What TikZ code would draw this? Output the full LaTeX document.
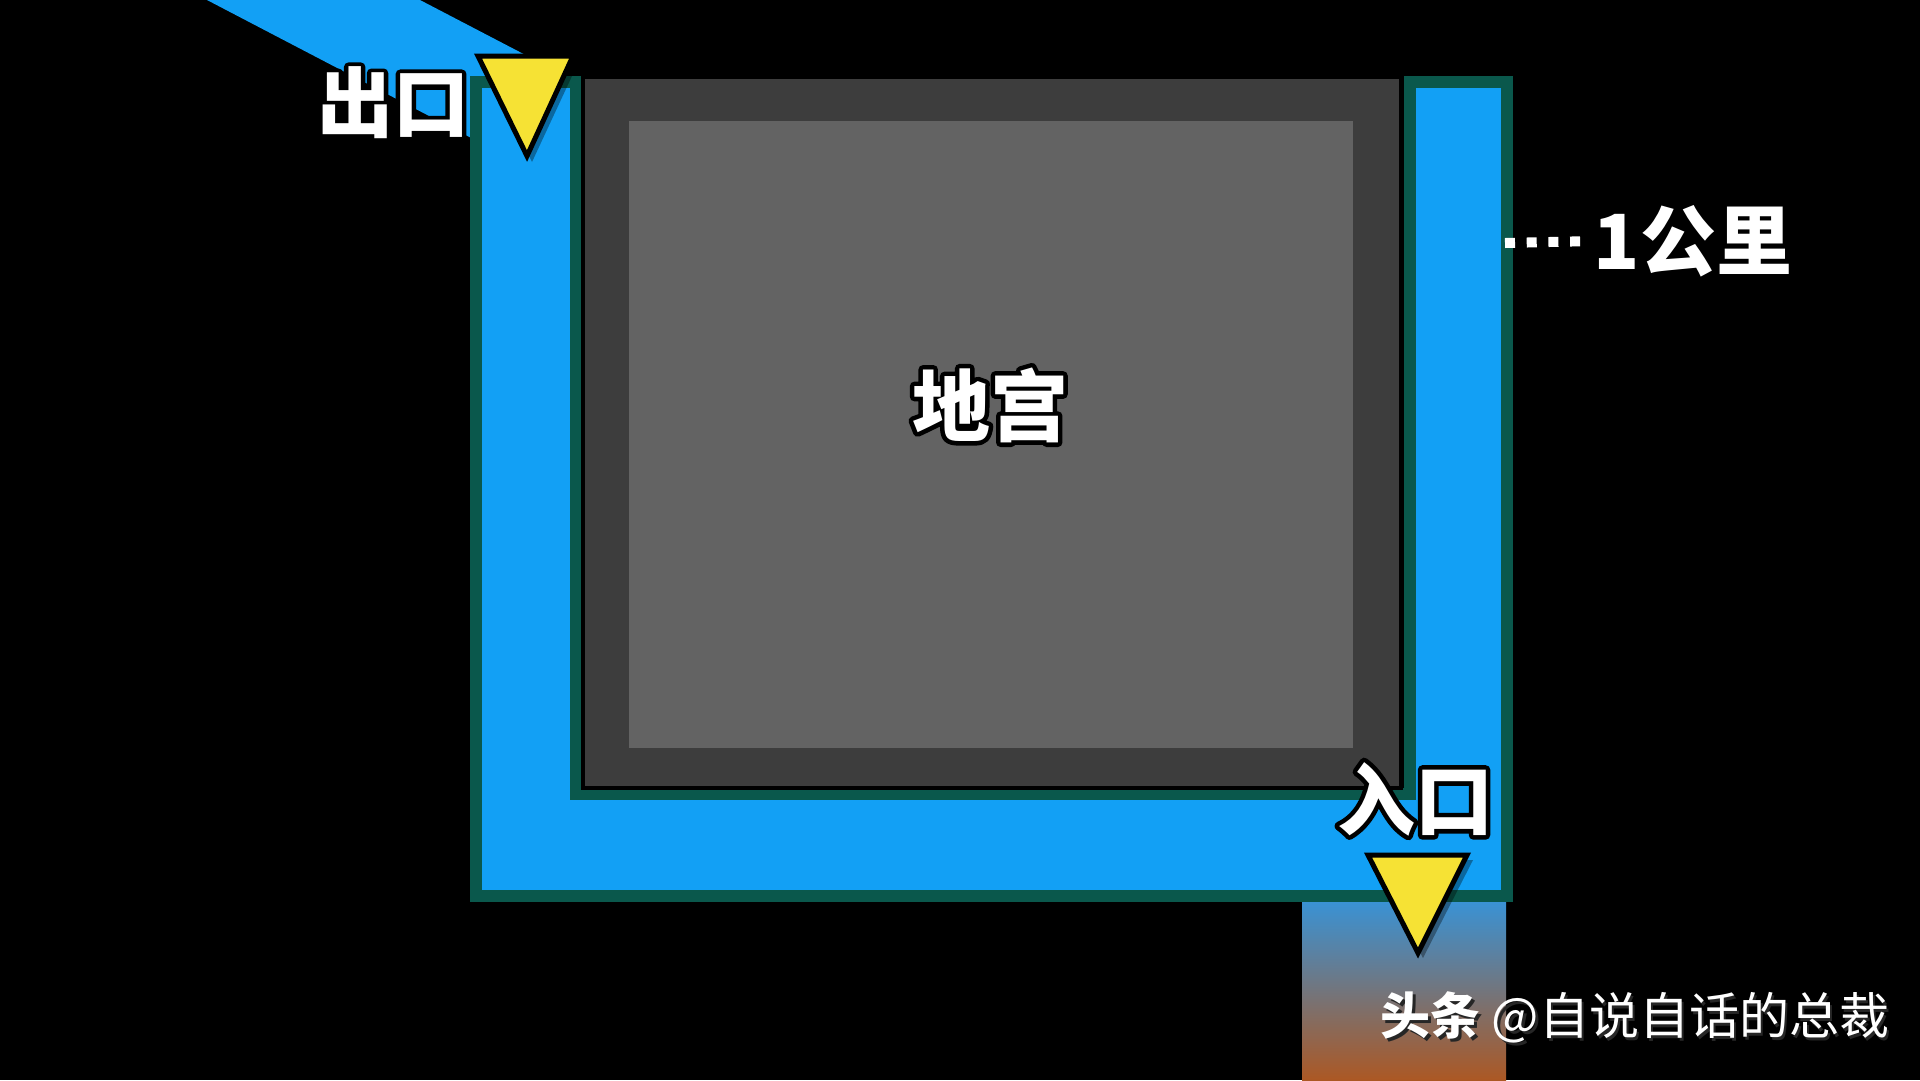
\documentclass[tikz,border=0pt]{standalone}
\usepackage{fontspec}
\newfontfamily\cjk{Noto Sans CJK SC}
\definecolor{cblue}{RGB}{18,160,245}
\definecolor{cgreen}{RGB}{10,88,76}
\definecolor{cdark}{RGB}{61,61,61}
\definecolor{clight}{RGB}{99,99,99}
\definecolor{cyellow}{RGB}{246,226,52}
\definecolor{gradtop}{RGB}{58,146,212}
\definecolor{gradbot}{RGB}{172,88,36}
\tikzset{
  bigtext/.style={inner sep=0pt, text=white, font=\cjk\bfseries\fontsize{76pt}{80pt}\selectfont},
  marker/.style={fill=cyellow, draw=black, line width=5pt, line join=miter},
  markshadow/.style={fill=black, opacity=0.35},
}
% black stroked underlay + white text on top
\newcommand{\outl}[1]{\makebox[0pt][l]{\color{black}\special{pdf:literal direct 1 j 0 G 9 w 2 Tr}#1\special{pdf:literal direct 0 Tr}}#1}
% soft drop shadow
\newcommand{\shadowed}[1]{\makebox[0pt][l]{\kern2.5pt\raisebox{-2.5pt}{\color{black!85}#1}}#1}
\begin{document}
\begin{tikzpicture}[x=1pt,y=-1pt]
\useasboundingbox (0,0) rectangle (1920,1080);
\fill[black] (0,0) rectangle (1920,1080);
% gradient passage below entrance
\shade[top color=gradtop, bottom color=gradbot] (1302,902) rectangle (1506,1080);
% diagonal blue band at top left
\fill[cblue] (207,0) -- (420,0) -- (560,73) -- (500,153) -- cycle;
% U-shaped blue corridor
\filldraw[fill=cblue, draw=cgreen, line width=12pt, line join=miter]
  (476,82) -- (476,896) -- (1507,896) -- (1507,82) -- (1410,82)
  -- (1410,794) -- (576,794) -- (576,82) -- cycle;
% underground palace
\filldraw[fill=cdark, draw=black, line width=4pt] (583,77) rectangle (1401,788);
\fill[clight] (629,121) rectangle (1353,748);
% exit marker
\fill[markshadow] (482,61) -- (579,61) -- (532,162) -- cycle;
\filldraw[marker] (478,56) -- (573,56) -- (527,156) -- cycle;
% entrance marker
\fill[markshadow] (1372,860) -- (1473,860) -- (1423,958) -- cycle;
\filldraw[marker] (1368,855) -- (1467,855) -- (1418,953) -- cycle;
% labels
\node[bigtext] (exit) at (393,103) {\outl{出口}};
\node[bigtext, font=\cjk\bfseries\fontsize{78pt}{82pt}\selectfont] (entry) at (1415,799) {\outl{入口}};
\node[bigtext, font=\cjk\bfseries\fontsize{78pt}{82pt}\selectfont] (palace) at (990,405) {\outl{地宫}};
\node[bigtext] (km) at (1693,241) {1公里};
\coordinate (kmstart) at (1505,243);
\draw[white, line width=10pt, dash pattern=on 10pt off 11.7pt, shorten >=12pt] (kmstart) -- (km.west);
% watermark
\node[inner sep=0pt, text=white, font=\cjk\fontsize{50pt}{54pt}\selectfont] (wm) at (1635,1019)
  {\shadowed{{\bfseries 头条} @自说自话的总裁}};
\end{tikzpicture}
\end{document}
